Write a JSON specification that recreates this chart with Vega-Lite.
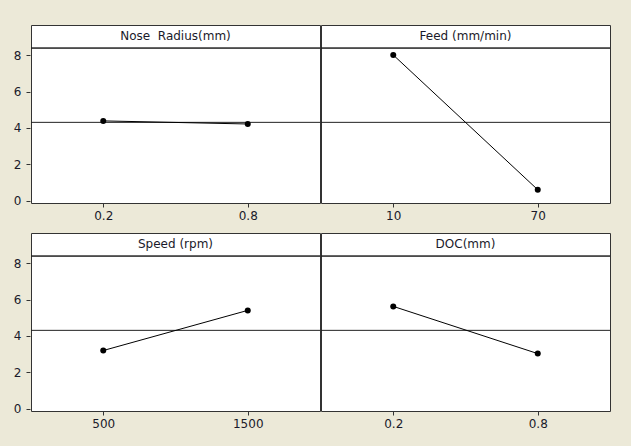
{
  "$schema": "https://vega.github.io/schema/vega-lite/v6.json",
  "background": "#ECE9D8",
  "padding": {"left": 13, "top": 24, "right": 21, "bottom": 16},
  "data": {
    "values": [
      {"factor": "Nose\u00a0 Radius(mm)", "level": "0.2", "mean": 4.39, "grand": 4.31},
      {"factor": "Nose\u00a0 Radius(mm)", "level": "0.8", "mean": 4.22, "grand": 4.31},
      {"factor": "Feed (mm/min)", "level": "10", "mean": 8.02, "grand": 4.31},
      {"factor": "Feed (mm/min)", "level": "70", "mean": 0.6, "grand": 4.31},
      {"factor": "Speed (rpm)", "level": "500", "mean": 3.2, "grand": 4.31},
      {"factor": "Speed (rpm)", "level": "1500", "mean": 5.41, "grand": 4.31},
      {"factor": "DOC(mm)", "level": "0.2", "mean": 5.63, "grand": 4.31},
      {"factor": "DOC(mm)", "level": "0.8", "mean": 3.03, "grand": 4.31}
    ]
  },
  "facet": {
    "field": "factor",
    "type": "nominal",
    "sort": ["Nose\u00a0 Radius(mm)", "Feed (mm/min)", "Speed (rpm)", "DOC(mm)"],
    "header": {
      "title": null,
      "labelOrient": "top",
      "labelPadding": -18,
      "labelFont": "DejaVu Sans",
      "labelFontSize": 12,
      "labelColor": "#1a1a2a"
    }
  },
  "columns": 2,
  "spacing": {"row": 10, "column": -1},
  "resolve": {"scale": {"x": "independent"}, "axis": {"x": "independent"}},
  "spec": {
    "width": 289,
    "height": 178,
    "layer": [
      {
        "mark": {"type": "rule", "color": "#222", "strokeWidth": 1},
        "encoding": {"y": {"datum": 8.4, "type": "quantitative"}}
      },
      {
        "mark": {"type": "rule", "color": "#222", "strokeWidth": 1},
        "encoding": {"y": {"field": "grand", "aggregate": "mean", "type": "quantitative"}}
      },
      {
        "mark": {"type": "line", "color": "black", "strokeWidth": 1, "point": {"filled": true, "size": 36, "color": "black", "opacity": 1}},
        "encoding": {
          "x": {
            "field": "level",
            "type": "ordinal",
            "sort": null,
            "scale": {"type": "point", "padding": 0.5},
            "axis": {"title": null, "labelAngle": 0, "domain": false, "ticks": true, "tickSize": 4, "tickColor": "#333", "labelPadding": 3}
          },
          "y": {
            "field": "mean",
            "type": "quantitative",
            "scale": {"domain": [-0.13, 9.67], "nice": false, "zero": false},
            "axis": {"title": null, "values": [0, 2, 4, 6, 8], "domain": false, "tickSize": 4, "tickColor": "#333", "labelPadding": 5}
          }
        }
      }
    ]
  },
  "config": {
    "view": {"stroke": "#333", "strokeWidth": 1, "fill": "white"},
    "axis": {"grid": false, "labelFont": "DejaVu Sans", "labelFontSize": 12, "labelColor": "#1a1a2a"}
  }
}
